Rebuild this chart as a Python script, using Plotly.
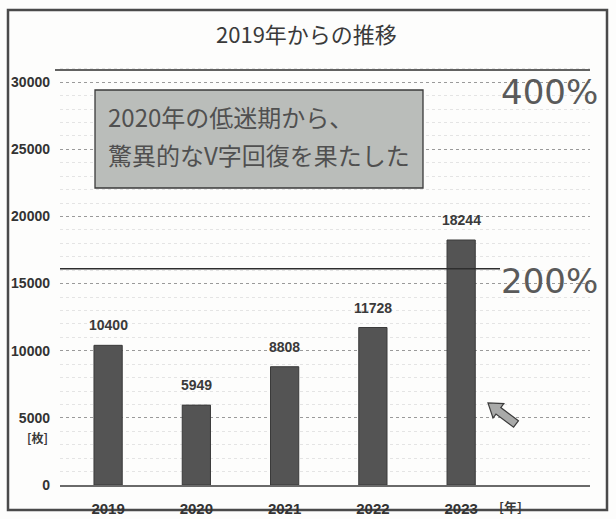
import numpy as np
import plotly.graph_objects as go

# ---- data ----
years = ["2019", "2020", "2021", "2022", "2023"]
sheets = [10400, 5949, 8808, 11728, 18244]
ref_levels = [30900, 16100]          # horizontal reference lines
ref_labels = ["400%", "200%"]
y_ticks = [0, 5000, 10000, 15000, 20000, 25000, 30000]
title_text = "2019年からの推移"
box_lines = ["2020年の低迷期から、", "驚異的なV字回復を果たした"]

W, H = 616, 519
L, R, T, B = 60, 26, 62, 34
PW, PH = W - L - R, H - T - B

def px2paper(px, py):
    return (px - L) / PW, (H - B - py) / PH

num_font = "Liberation Sans Narrow, Liberation Sans, Arial"
jp_font = "Noto Sans CJK JP"

xs = list(range(len(years)))
fig = go.Figure()
fig.add_trace(go.Bar(
    x=xs, y=sheets, width=0.32,
    marker=dict(color="#545454", line=dict(color="#3a3a3a", width=1)),
    hoverinfo="skip", showlegend=False,
))

annotations = []
# data labels
for x, v in zip(xs, sheets):
    annotations.append(dict(x=x, y=v, xref="x", yref="y", text=f"<b>{v}</b>",
                            showarrow=False, yshift=20, xanchor="center", yanchor="middle",
                            font=dict(family=num_font, size=14, color="#3a3a3a")))

def paper_text(px, py, text, font, xanchor="center"):
    xp, yp = px2paper(px, py)
    annotations.append(dict(x=xp, y=yp, xref="paper", yref="paper", text=text, showarrow=False,
                            xanchor=xanchor, yanchor="middle", font=font))

# title
paper_text(306, 33, title_text, dict(family=jp_font, size=22, color="#3a3a3a"))

# percentage labels
pct_y = [92, 281]
for lab, py in zip(ref_labels, pct_y):
    paper_text(549, py, lab, dict(family="DejaVu Sans", size=34, color="#5a5a5a"))

# box text
bx0, by0 = px2paper(95, 90)
bx1, by1 = px2paper(423, 188)
box_y = [117, 154]
for line, py in zip(box_lines, box_y):
    paper_text(106, py, line, dict(family=jp_font, size=24, color="#505050"), xanchor="left")

# units
paper_text(37, 437, "<b>[枚]</b>", dict(family=jp_font, size=12, color="#3a3a3a"))
paper_text(510, 506, "<b>[年]</b>", dict(family=jp_font, size=13, color="#3a3a3a"))

shapes = []
# outer frame
fx0, fy0 = px2paper(8, 10)
fx1, fy1 = px2paper(607, 510)
shapes.append(dict(type="rect", xref="paper", yref="paper", x0=fx0, y0=fy1, x1=fx1, y1=fy0,
                   line=dict(color="#4a4a4a", width=2.5), layer="below"))
# reference lines
ref_x_end = [590, 500]
ref_x_start = [55, 60]
for lvl, xs0, xe in zip(ref_levels, ref_x_start, ref_x_end):
    shapes.append(dict(type="line", xref="paper", yref="y",
                       x0=(xs0 - L) / PW, x1=(xe - L) / PW, y0=lvl, y1=lvl,
                       line=dict(color="#2e2e2e", width=1.6)))
# text box
shapes.append(dict(type="rect", xref="paper", yref="paper", x0=bx0, y0=by1, x1=bx1, y1=by0,
                   fillcolor="#babdba", line=dict(color="#3a3a3a", width=1.3)))
# block arrow
tip = np.array([488.0, 403.0]); tail = np.array([516.0, 424.0])
u = (tip - tail) / np.linalg.norm(tip - tail)
n = np.array([-u[1], u[0]])
neck = tip - u * 13
pts = [tail + n * 4, neck + n * 4, neck + n * 9, tip, neck - n * 9, neck - n * 4, tail - n * 4]
path = "M " + " L ".join(f"{px2paper(*p)[0]:.4f},{px2paper(*p)[1]:.4f}" for p in pts) + " Z"
shapes.append(dict(type="path", xref="paper", yref="paper", path=path,
                   fillcolor="#a9aaa9", line=dict(color="#3c3c3c", width=1.2)))

fig.update_layout(
    width=W, height=H, margin=dict(l=L, r=R, t=T, b=B, autoexpand=False),
    paper_bgcolor="#fdfdfc", plot_bgcolor="#fdfdfc",
    annotations=annotations, shapes=shapes, showlegend=False,
    xaxis=dict(range=[-0.545, 5.46], tickvals=xs, ticktext=[f"<b>{y}</b>" for y in years],
               showgrid=False, zeroline=False, showline=True, linecolor="#6a6a6a", linewidth=1.5,
               ticks="", ticklabelstandoff=9, automargin=False,
               tickfont=dict(family=num_font, size=15, color="#333333"), fixedrange=True),
    yaxis=dict(range=[0, 31500], tickvals=y_ticks, ticktext=[f"<b>{t}</b>" for t in y_ticks],
               showgrid=True, gridcolor="#9a9a9a", griddash="dot", gridwidth=1,
               minor=dict(dtick=1000, showgrid=True, gridcolor="#e4e4e4", griddash="dot", gridwidth=1),
               zeroline=False, ticks="", ticklabelstandoff=9, automargin=False,
               tickfont=dict(family=num_font, size=14, color="#333333"), fixedrange=True),
)

fig.write_html("out.html", config={"displayModeBar": False},
               post_script="document.body.style.margin='0';document.body.style.padding='0';")
